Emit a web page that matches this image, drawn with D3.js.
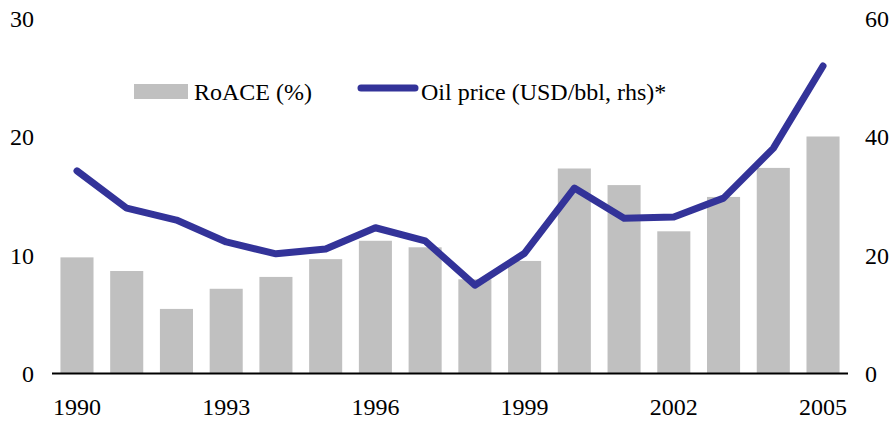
<!DOCTYPE html>
<html>
<head>
<meta charset="utf-8">
<script src="https://cdn.jsdelivr.net/npm/d3@7"></script>
<style>
  body { margin: 0; background: #fff; }
  svg text { font-family: "Liberation Serif", "Times New Roman", serif; font-size: 24px; fill: #000; }
</style>
</head>
<body>
<svg width="891" height="425"></svg>
<script>
const years = d3.range(1990, 2006);
const roace = [9.8, 8.65, 5.45, 7.15, 8.15, 9.65, 11.2, 10.65, 7.95, 9.5, 17.3, 15.9, 12.0, 14.9, 17.35, 20.0];
const oilPrice = [34.2, 27.9, 25.9, 22.2, 20.2, 21.0, 24.6, 22.4, 14.9, 20.3, 31.3, 26.2, 26.4, 29.6, 38.0, 51.9];
const leftTicks = [0, 10, 20, 30];
const rightTicks = [0, 20, 40, 60];
const yearTicks = [1990, 1993, 1996, 1999, 2002, 2005];

const svg = d3.select("svg");

const x = d3.scaleBand()
  .domain(years)
  .range([52, 848])
  .paddingInner(0.335)
  .paddingOuter(0.17);

const yL = d3.scaleLinear().domain([0, 30]).range([373.5, 18]);
const yR = d3.scaleLinear().domain([0, 60]).range([373.5, 18]);

// bars
svg.selectAll(".bar")
  .data(years)
  .enter()
  .append("rect")
  .attr("class", "bar")
  .attr("x", d => x(d))
  .attr("width", x.bandwidth())
  .attr("y", (d, i) => yL(roace[i]))
  .attr("height", (d, i) => yL(0) - yL(roace[i]))
  .attr("fill", "#c0c0c0");

// oil line
const line = d3.line()
  .x((d, i) => x(years[i]) + x.bandwidth() / 2)
  .y(d => yR(d));

svg.append("path")
  .datum(oilPrice)
  .attr("d", line)
  .attr("fill", "none")
  .attr("stroke", "#333399")
  .attr("stroke-width", 7)
  .attr("stroke-linejoin", "round")
  .attr("stroke-linecap", "round");

// baseline
svg.append("line")
  .attr("x1", 52).attr("x2", 848)
  .attr("y1", yL(0)).attr("y2", yL(0))
  .attr("stroke", "#000")
  .attr("stroke-width", 2);

// left axis
const left = svg.append("g")
  .attr("transform", "translate(34,0)")
  .call(d3.axisLeft(yL).tickValues(leftTicks).tickSize(0).tickPadding(0));
left.select(".domain").remove();
left.selectAll("text").attr("font-family", null).attr("font-size", null).attr("dy", "0.34em");

// right axis
const right = svg.append("g")
  .attr("transform", "translate(865,0)")
  .call(d3.axisRight(yR).tickValues(rightTicks).tickSize(0).tickPadding(0));
right.select(".domain").remove();
right.selectAll("text").attr("font-family", null).attr("font-size", null).attr("dy", "0.34em");

// x axis labels
const bottom = svg.append("g")
  .attr("transform", "translate(0,398)")
  .call(d3.axisBottom(x).tickValues(yearTicks).tickSize(0).tickPadding(0));
bottom.select(".domain").remove();
bottom.selectAll("text").attr("font-family", null).attr("font-size", null);

// legend
const legend = svg.append("g");
legend.append("rect")
  .attr("x", 134).attr("y", 84)
  .attr("width", 54).attr("height", 15)
  .attr("fill", "#c0c0c0");
legend.append("text")
  .attr("x", 194).attr("y", 100)
  .text("RoACE (%)");
legend.append("line")
  .attr("x1", 361).attr("x2", 415)
  .attr("y1", 88).attr("y2", 88)
  .attr("stroke", "#333399")
  .attr("stroke-width", 7)
  .attr("stroke-linecap", "round");
legend.append("text")
  .attr("x", 421).attr("y", 100)
  .text("Oil price (USD/bbl, rhs)*");
</script>
</body>
</html>
